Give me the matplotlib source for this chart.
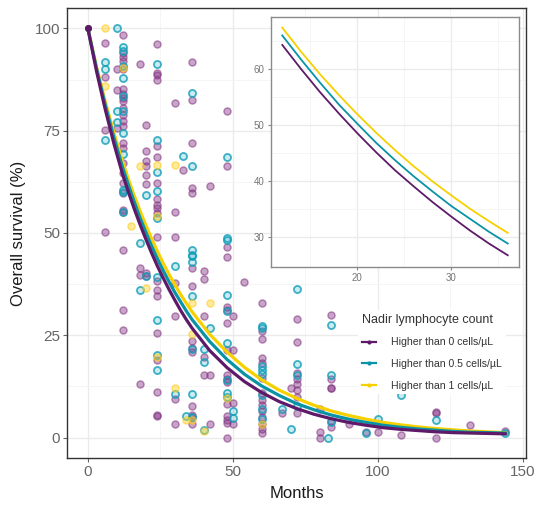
import matplotlib
matplotlib.use("Agg")
import matplotlib.pyplot as plt
from matplotlib.ticker import FixedLocator
from matplotlib.lines import Line2D

plt.rcParams['font.family'] = ['Liberation Sans', 'DejaVu Sans']

# ---------------- data ----------------
series_labels = ["Higher than 0 cells/\u00b5L", "Higher than 0.5 cells/\u00b5L", "Higher than 1 cells/\u00b5L"]
legend_title = "Nadir lymphocyte count"

months_curve = [0, 3, 6, 9, 12, 14, 16, 18, 20, 22, 24, 26, 28, 30, 32, 34, 36, 42, 48, 54, 60,
                66, 72, 78, 84, 90, 96, 102, 108, 114, 120, 126, 132, 138, 144]
surv_0 = [100, 89.5, 80.2, 71.8, 64.3, 60.0, 55.9, 52.1, 48.5, 45.1, 41.9, 39.0, 36.2, 33.6, 31.1,
          28.8, 26.7, 21.3, 17.1, 13.7, 11.0, 8.8, 7.1, 5.7, 4.6, 3.7, 3.0, 2.4, 2.0, 1.7, 1.4,
          1.2, 1.1, 1.0, 0.9]
surv_05 = [100, 90.2, 81.3, 73.3, 66.0, 61.7, 57.6, 53.7, 50.2, 46.8, 43.7, 40.8, 38.1, 35.5, 33.2,
           30.9, 28.8, 23.5, 19.1, 15.5, 12.6, 10.3, 8.3, 6.8, 5.5, 4.5, 3.7, 3.0, 2.5, 2.1, 1.8,
           1.5, 1.3, 1.2, 1.1]
surv_1 = [100, 90.6, 82.1, 74.4, 67.4, 63.1, 59.1, 55.4, 51.9, 48.6, 45.5, 42.6, 39.9, 37.4, 35.0,
          32.8, 30.7, 25.3, 20.9, 17.2, 14.1, 11.6, 9.6, 7.9, 6.5, 5.4, 4.5, 3.7, 3.1, 2.6, 2.2,
          1.9, 1.6, 1.4, 1.2]

# observed points: (month, survival %)
pts_0_month = ([6]*4 + [10]*3 + [12]*24 + [18]*4 + [20]*8 + [24]*20 + [30]*7 + [33] + [36]*14 +
               [40]*5 + [42]*3 + [48]*16 + [50]*4 + [54] + [60]*14 + [67] + [70] + [72]*8 +
               [80]*3 + [84]*6 + [90] + [96] + [100] + [108] + [120]*3 + [132] + [144])
pts_0_value = ([96.4, 88.2, 75.3, 50.2] + [90.1, 84.9, 75.7] +
               [98.4, 93.9, 93.0, 92.0, 90.0, 85.1, 84.0, 83.0, 82.2, 80.5, 78.9, 77.3, 76.1, 72.0,
                70.9, 67.0, 64.6, 62.2, 59.8, 55.7, 55.2, 45.8, 31.2, 26.4] +
               [91.4, 41.4, 39.7, 13.2] +
               [76.5, 70.0, 67.5, 66.3, 64.3, 61.9, 40.2, 39.5] +
               [96.3, 89.2, 88.7, 87.4, 71.2, 68.6, 62.3, 58.2, 56.9, 56.0, 54.8, 49.1, 38.2, 36.1,
                34.5, 25.5, 19.0, 11.1, 5.5, 5.2] +
               [81.7, 55.2, 49.1, 37.7, 29.6, 9.4, 3.4] + [65.3] +
               [91.8, 82.4, 72.0, 61.0, 59.7, 41.4, 37.1, 23.6, 21.8, 20.8, 7.6, 5.6, 5.0, 3.4] +
               [40.7, 38.7, 29.6, 19.6, 15.2] + [61.4, 15.2, 3.4] +
               [79.9, 66.5, 46.5, 44.2, 32.0, 31.2, 28.0, 21.4, 15.2, 14.4, 13.6, 8.3, 5.2, 4.2,
                3.6, 0.0] +
               [29.6, 21.4, 8.4, 3.2] + [38.1] +
               [32.8, 26.0, 24.0, 19.5, 18.3, 14.6, 11.0, 9.3, 8.0, 6.5, 5.0, 3.4, 2.0, 1.2] +
               [6.1] + [12.0] + [28.9, 23.3, 15.9, 14.2, 13.2, 11.7, 9.8, 6.1] +
               [7.1, 1.3, 0.0] + [30.0, 14.4, 12.1, 12.0, 4.0, 2.5] + [3.2] + [1.3] + [1.3] +
               [0.6] + [6.3, 6.0, 0.0] + [3.0] + [1.5])

pts_05_month = ([6]*3 + [10]*3 + [12]*11 + [18]*2 + [20]*2 + [24]*9 + [30]*2 + [33] + [34] +
                [36]*10 + [40]*3 + [42] + [48]*9 + [50]*2 + [60]*8 + [67] + [70] + [72]*4 +
                [83] + [84]*3 + [96] + [100] + [108] + [120] + [144])
pts_05_value = ([91.8, 90.0, 72.7] + [100, 79.8, 77.1] +
                [95.4, 94.5, 90.8, 87.9, 83.5, 79.8, 74.5, 69.2, 60.6, 60.0, 55.1] +
                [36.0, 47.5] + [59.4, 39.5] +
                [91.4, 72.7, 64.8, 60.2, 53.6, 39.3, 28.8, 20.2, 16.6] +
                [42.0, 10.6] + [68.9] + [5.2] +
                [84.2, 66.5, 45.8, 44.4, 44.6, 43.0, 34.5, 21.7, 10.6, 5.0] +
                [21.6, 18.4, 1.8] + [26.8] +
                [68.7, 48.7, 48.3, 34.9, 31.0, 23.2, 14.0, 10.8, 10.0] + [6.4, 4.8] +
                [27.2, 26.8, 17.6, 16.6, 15.6, 10.5, 7.0, 4.5] + [7.1] + [2.0] +
                [36.2, 18.1, 15.2, 7.7] + [0.0] + [27.4, 15.2, 3.7] + [1.2] + [4.6] + [10.3] +
                [4.2] + [1.0])

pts_1_month = [6, 6, 12, 15, 18, 20, 24, 24, 24, 30, 30, 34, 36, 36, 36, 40, 42, 48, 60]
pts_1_value = [100, 86.0, 90.4, 51.6, 66.4, 36.6, 66.6, 54.1, 19.8, 66.6, 12.2, 4.2, 32.9, 25.2,
               4.4, 1.6, 33.0, 9.6, 3.4]

# ---------------- style ----------------
line_cols = ['#5E1A68', '#0A93A6', '#F7D000']

W, H = 536, 505
fig = plt.figure(figsize=(W / 100, H / 100), dpi=100)
ax = fig.add_axes([67 / W, 1 - 458 / H, (526 - 67) / W, (458 - 8) / H])

grid_major = '#EBEBEB'
grid_minor = '#F4F4F4'
tick_col = '#666666'

def style_axes(a, fs, border='#333333'):
    a.set_facecolor('white')
    a.grid(True, which='major', color=grid_major, lw=1.0, zorder=0)
    a.grid(True, which='minor', color=grid_minor, lw=0.6, zorder=0)
    a.set_axisbelow(True)
    for s in a.spines.values():
        s.set_color(border)
        s.set_linewidth(1.0)
    a.tick_params(which='major', length=3, width=0.8, color=tick_col, labelcolor=tick_col,
                  labelsize=fs, pad=2)
    a.tick_params(which='minor', length=0)

ax.set_xlim(-7.2, 151.2)
ax.set_ylim(-5, 105)
ax.xaxis.set_major_locator(FixedLocator([0, 50, 100, 150]))
ax.xaxis.set_minor_locator(FixedLocator([25, 75, 125]))
ax.yaxis.set_major_locator(FixedLocator([0, 25, 50, 75, 100]))
ax.yaxis.set_minor_locator(FixedLocator([12.5, 37.5, 62.5, 87.5]))
style_axes(ax, 11)

# points
ax.scatter(pts_0_month, pts_0_value, s=26, facecolor=(0.52, 0.22, 0.52, 0.45),
           edgecolor=(0.50, 0.20, 0.50, 0.55), linewidth=1.0, zorder=2)
ax.scatter(pts_05_month, pts_05_value, s=26, facecolor=(0.07, 0.65, 0.74, 0.22),
           edgecolor=(0.07, 0.62, 0.72, 0.8), linewidth=1.3, zorder=3)
ax.scatter(pts_1_month, pts_1_value, s=26, facecolor=(1.0, 0.82, 0.16, 0.45),
           edgecolor=(1.0, 0.80, 0.10, 0.6), linewidth=1.0, zorder=4)

# curves
curves = [surv_0, surv_05, surv_1]
for i in [2, 1, 0]:
    ax.plot(months_curve, curves[i], color=line_cols[i], lw=2.3, marker='o', ms=4,
            markevery=[0], zorder=5 + (2 - i), solid_joinstyle='round')

ax.set_xlabel("Months", fontsize=12, color='#1a1a1a', labelpad=5)
ax.set_ylabel("Overall survival (%)", fontsize=12, color='#1a1a1a', labelpad=6)

# legend
handles = [Line2D([0], [0], color=line_cols[i], lw=1.6, marker='o', ms=2.0) for i in range(3)]
leg = ax.legend(handles, series_labels, title=legend_title, loc='upper left',
                bbox_to_anchor=(358 / W, 1 - 310 / H), bbox_transform=fig.transFigure,
                frameon=True, fancybox=False, edgecolor='none', facecolor='white', framealpha=1,
                fontsize=7.6, title_fontsize=9, handlelength=1.4, handletextpad=1.4,
                labelspacing=1.1, borderpad=0.35, borderaxespad=0)
leg._legend_box.align = "left"
leg.get_title().set_color('#333333')
for t in leg.get_texts():
    t.set_color('#333333')
leg.set_zorder(10)

# inset
axi = fig.add_axes([271 / W, 1 - 267 / H, (519 - 271) / W, (267 - 17) / H])
axi.set_xlim(10.8, 37.2)
axi.set_ylim(24.6, 69.3)
axi.xaxis.set_major_locator(FixedLocator([20, 30]))
axi.xaxis.set_minor_locator(FixedLocator([15, 25, 35]))
axi.yaxis.set_major_locator(FixedLocator([30, 40, 50, 60]))
axi.yaxis.set_minor_locator(FixedLocator([35, 45, 55, 65]))
style_axes(axi, 7, border='#8a8a8a')
axi.tick_params(which='major', length=2.5, labelcolor='#777777', color='#888888')
idx = [k for k, m in enumerate(months_curve) if 12 <= m <= 36]
for i in [2, 1, 0]:
    axi.plot([months_curve[k] for k in idx], [curves[i][k] for k in idx],
             color=line_cols[i], lw=1.3, zorder=3)
axi.set_zorder(20)

fig.savefig("out.png", dpi=100)
